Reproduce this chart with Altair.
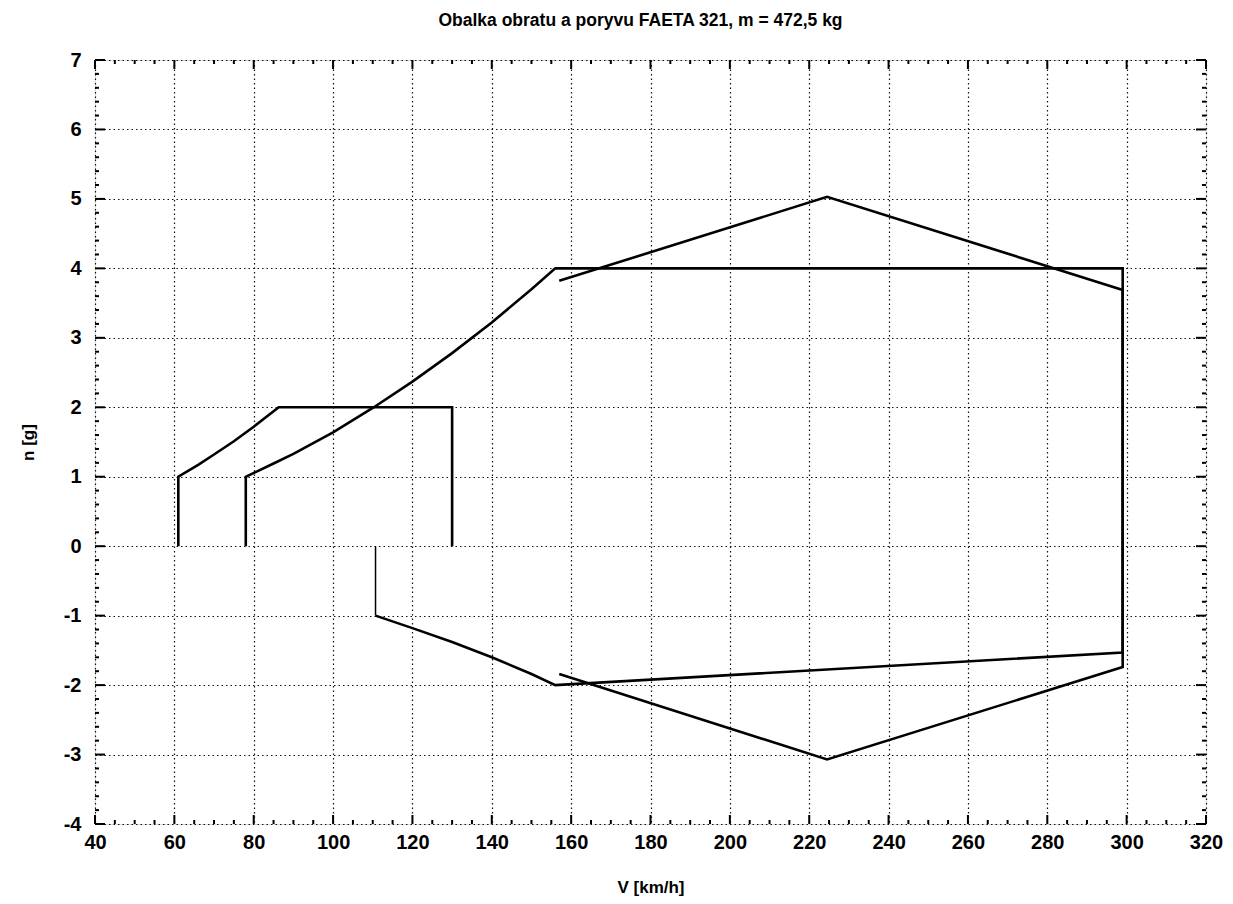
import altair as alt
import pandas as pd

# ---- data ----
# flap envelope (stall speed ~61 km/h, n = 2 limit)
flap_v = [61, 61, 66, 70, 75, 80, 86.3, 130, 130]
flap_n = [0, 1, 1.17, 1.32, 1.51, 1.72, 2.0, 2.0, 0]

# manoeuvre envelope (clean)
man_v = [78, 78, 85, 90, 100, 110, 120, 130, 140, 150, 156, 299, 299, 156, 150, 140, 130, 120, 110.7]
man_n = [0, 1, 1.19, 1.33, 1.64, 1.99, 2.37, 2.78, 3.22, 3.70, 4.0, 4.0, -1.53, -2.0, -1.84, -1.6, -1.38, -1.18, -1.0]

# thin closing segment at negative stall speed
neg_v = [110.7, 110.7]
neg_n = [-1.0, 0]

# gust envelope
gust_v = [157, 224.5, 299, 299, 224.5, 157]
gust_n = [3.82, 5.03, 3.69, -1.74, -3.07, -1.84]

x_major = list(range(40, 321, 20))
x_minor = [v for v in range(40, 321, 5) if v % 20 != 0]
y_major = list(range(-4, 8))
y_minor = [round(-4 + 0.2 * i, 1) for i in range(56) if i % 5 != 0]

W, H = 1111, 764
FONT = "Liberation Sans"


def series(vs, ns, name):
    return pd.DataFrame({"V": vs, "n": ns, "s": name, "o": list(range(len(vs)))})


df_thick = pd.concat([
    series(flap_v, flap_n, "flap"),
    series(man_v, man_n, "man"),
    series(gust_v, gust_n, "gust"),
])
df_thin = series(neg_v, neg_n, "neg")

xs = alt.Scale(domain=[40, 320], nice=False, zero=False)
ys = alt.Scale(domain=[-4, 7], nice=False, zero=False)

x_axis = alt.Axis(values=x_major, grid=True, ticks=False, domain=False,
                  labelExpr="'' + datum.value",
                  labelFontSize=20, labelFontWeight="bold", labelFont=FONT,
                  labelColor="black", labelPadding=8,
                  title="V [km/h]", titleFontSize=17, titleFontWeight="bold",
                  titleFont=FONT, titleColor="black", titlePadding=27,
                  gridColor="#111", gridDash=[1.5, 3], gridWidth=1.2,
                  labelFlush=False)
y_axis = alt.Axis(values=y_major, grid=True, ticks=False, domain=False,
                  labelExpr="'' + datum.value",
                  labelFontSize=20, labelFontWeight="bold", labelFont=FONT,
                  labelColor="black", labelPadding=14,
                  title="n [g]", titleFontSize=17, titleFontWeight="bold",
                  titleFont=FONT, titleColor="black", titlePadding=26,
                  gridColor="#111", gridDash=[1.5, 3], gridWidth=1.2,
                  labelFlush=False)

base_grid = alt.Chart(df_thick).mark_line(strokeWidth=0, opacity=0).encode(
    x=alt.X("V:Q", scale=xs, axis=x_axis),
    y=alt.Y("n:Q", scale=ys, axis=y_axis),
    detail="s:N",
)

thick = alt.Chart(df_thick).mark_line(color="black", strokeWidth=2.6).encode(
    x=alt.X("V:Q", scale=xs),
    y=alt.Y("n:Q", scale=ys),
    detail="s:N",
    order="o:Q",
)
thin = alt.Chart(df_thin).mark_line(color="black", strokeWidth=1.5).encode(
    x=alt.X("V:Q", scale=xs),
    y=alt.Y("n:Q", scale=ys),
    order="o:Q",
)

# inward ticks on all four sides
dxM = pd.DataFrame({"v": x_major})
dxm = pd.DataFrame({"v": x_minor})
dyM = pd.DataFrame({"v": y_major})
dym = pd.DataFrame({"v": y_minor})


def xticks(d, length, w):
    bot = alt.Chart(d).mark_rule(color="black", strokeWidth=w).encode(
        x=alt.X("v:Q", scale=xs), y=alt.value(H), y2=alt.value(H - length))
    top = alt.Chart(d).mark_rule(color="black", strokeWidth=w).encode(
        x=alt.X("v:Q", scale=xs), y=alt.value(0), y2=alt.value(length))
    return bot + top


def yticks(d, length, w):
    left = alt.Chart(d).mark_rule(color="black", strokeWidth=w).encode(
        y=alt.Y("v:Q", scale=ys), x=alt.value(0), x2=alt.value(length))
    right = alt.Chart(d).mark_rule(color="black", strokeWidth=w).encode(
        y=alt.Y("v:Q", scale=ys), x=alt.value(W), x2=alt.value(W - length))
    return left + right


chart = alt.layer(
    base_grid,
    xticks(dxM, 9, 2), xticks(dxm, 4, 2),
    yticks(dyM, 10, 2), yticks(dym, 4, 2),
    thick, thin,
).properties(
    width=W, height=H,
    title=alt.TitleParams("Obalka obratu a poryvu FAETA 321, m = 472,5 kg",
                          fontSize=17.5, font=FONT, fontWeight="bold",
                          color="black", offset=21, dx=-10, anchor="middle"),
    autosize=alt.AutoSizeParams(type="none"),
    padding={"left": 87, "top": 52, "right": 19, "bottom": 72},
).configure_view(
    stroke="black", strokeWidth=3
).configure(background="white")

chart.save("out.html", embed_options={"renderer": "svg", "actions": False})
